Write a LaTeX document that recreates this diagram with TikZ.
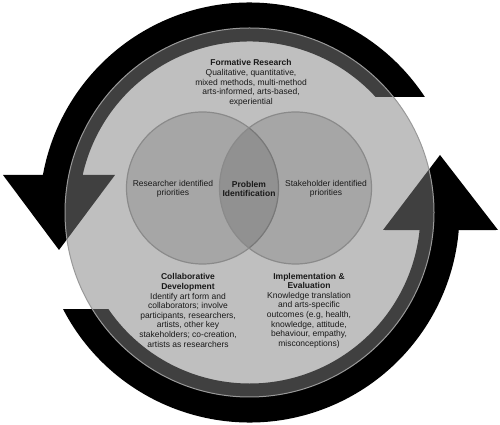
\documentclass[tikz,border=0pt]{standalone}
\usepackage{fontspec}
\setmainfont{Liberation Sans}
\usetikzlibrary{calc}
\begin{document}
\begin{tikzpicture}[x=1pt, y=1pt, every node/.style={align=center, inner sep=0pt, text=black!90, font=\fontsize{8.5}{9.6}\selectfont},
	ring/.style={circle, draw=black!40, line width=1pt, fill=black!50, fill opacity=0.5, draw opacity=1, minimum size=369pt},
	venn/.style={circle, draw=black!46, line width=1.2pt, fill=black, fill opacity=0.13, draw opacity=1, minimum size=152pt},
	arw/.style={fill=black}]
	\useasboundingbox (0,0) rectangle (500,425);
	\coordinate (c) at (249.5,212.5);

	\fill[arw] ($(c)+(33.4:210)$) arc[start angle=33.4, end angle=169.7, radius=210]
		-- (3,250) -- (59,175) -- (115,250)
		-- ($(c)+(167.3:171)$) arc[start angle=167.3, end angle=42.5, radius=171] -- cycle;
	\fill[arw] ($(c)+(207.4:210)$) arc[start angle=207.4, end angle=355.2, radius=210]
		-- (498,195) -- (440,270) -- (383,195)
		-- ($(c)+(354.1:171)$) arc[start angle=354.1, end angle=214.4, radius=171] -- cycle;

	\node[ring] (ring) at (c) {};
	\node[venn] (lv) at (202.5,237) {};
	\node[venn] (rv) at (295.5,237) {};

	\node (formative) at (251,342) {\textbf{Formative Research}\\Qualitative, quantitative,\\mixed methods, multi-method\\arts-informed, arts-based,\\experiential};
	\node (researcher) at (173,236) {Researcher identified\\priorities};
	\node (problem) at (249,236) {\textbf{Problem}\\\textbf{Identification}};
	\node (stakeholder) at (326,236) {Stakeholder identified\\priorities};
	\node (collab) at (188,114.5) {\textbf{Collaborative}\\\textbf{Development}\\Identify art form and\\collaborators; involve\\participants, researchers,\\artists, other key\\stakeholders; co-creation,\\artists as researchers};
	\node (impl) at (309,114.5) {\textbf{Implementation \&}\\\textbf{Evaluation}\\Knowledge translation\\and arts-specific\\outcomes (e.g, health,\\knowledge, attitude,\\behaviour, empathy,\\misconceptions)};
\end{tikzpicture}
\end{document}
